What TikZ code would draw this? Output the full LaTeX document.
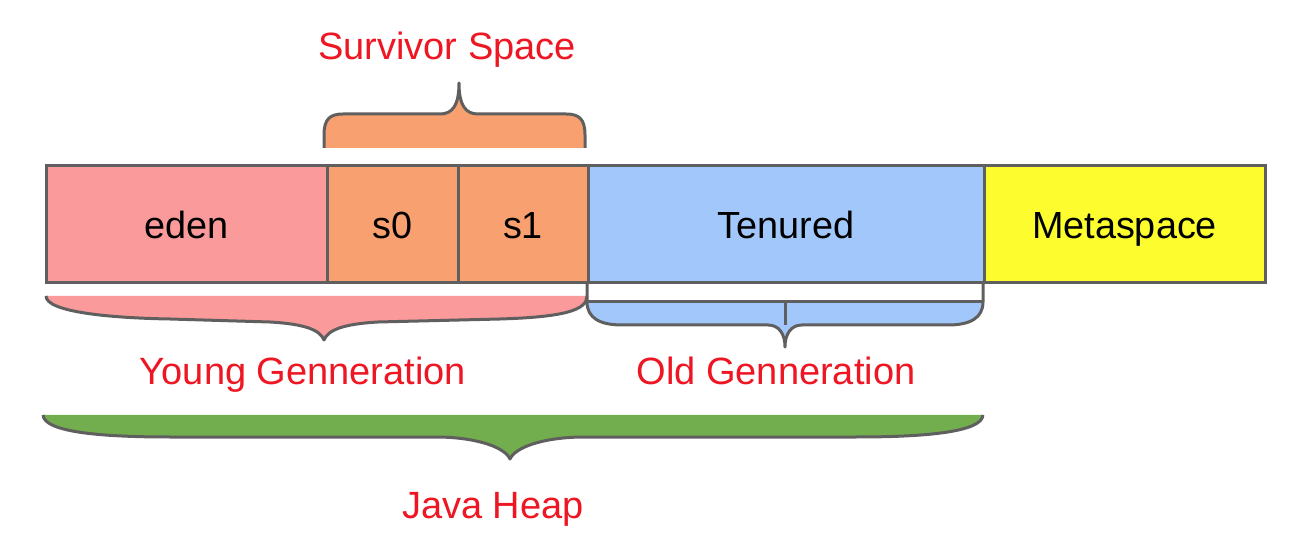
\documentclass[tikz,border=0pt]{standalone}
\usepackage{fontspec}
\setmainfont{Liberation Sans}
\definecolor{edenc}{RGB}{250,154,154}
\definecolor{survc}{RGB}{248,160,112}
\definecolor{tenc}{RGB}{162,199,250}
\definecolor{metac}{RGB}{252,252,46}
\definecolor{heapc}{RGB}{114,174,77}
\definecolor{linec}{RGB}{95,95,95}
\definecolor{redc}{RGB}{238,22,34}
\begin{document}
\begin{tikzpicture}[x=0.5pt,y=-0.5pt,
  cell/.style={draw=linec, line width=1.5pt, minimum height=58.5pt, inner sep=0pt,
    text height=14.5pt, text depth=0pt, font=\fontsize{18.9pt}{22pt}\selectfont},
  lbl/.style={text=redc, anchor=base, inner sep=0pt, font=\fontsize{19pt}{22pt}\selectfont},
  brace/.style={draw=linec, line width=1.5pt, line join=round}]
\useasboundingbox (0,0) rectangle (1304,544);

% heap compartments
\node[cell, fill=edenc, minimum width=140.5pt] (eden) at (186.5,224.5) {eden};
\node[cell, fill=survc, minimum width=65.5pt] (s0) at (392.5,224.5) {s0};
\node[cell, fill=survc, minimum width=65pt] (s1) at (523,224.5) {s1};
\node[cell, fill=tenc, minimum width=198pt] (ten) at (786,224.5) {Tenured};
\node[cell, fill=metac, minimum width=140.5pt] (meta) at (1124.5,224.5) {Metaspace};

% survivor brace (top)
\filldraw[brace, fill=survc] (324,148) -- (324,135) .. controls (324,119) and (330,114) .. (343,114)
  -- (440,114) .. controls (452,114) and (459,106) .. (459,83)
  .. controls (459,106) and (466,114) .. (478,114) -- (566,114)
  .. controls (579,114) and (585,119) .. (585,135) -- (585,148);

% young brace
\filldraw[brace, fill=edenc] (46,296) .. controls (46,312) and (110,318) .. (170,319)
  -- (270,322) .. controls (305,324) and (320,330) .. (324,340)
  .. controls (328,330) and (343,324) .. (378,322) -- (500,319)
  .. controls (565,317) and (587,310) .. (587,296);

% old brace
\fill[tenc] (587,302) .. controls (587,318) and (600,325) .. (622,325) -- (768,325)
  .. controls (779,325) and (785,334) .. (785,347)
  .. controls (785,334) and (791,325) .. (802,325) -- (948,325)
  .. controls (970,325) and (983,318) .. (983,302) -- cycle;
\draw[brace] (587,283) -- (587,302) .. controls (587,318) and (600,325) .. (622,325) -- (768,325)
  .. controls (779,325) and (785,334) .. (785,347)
  .. controls (785,334) and (791,325) .. (802,325) -- (948,325)
  .. controls (970,325) and (983,318) .. (983,302) -- (983,283);
\draw[brace] (587,302) -- (983,302) (785,302) -- (785,325);

% java heap brace
\filldraw[brace, fill=heapc] (43,415) .. controls (44,432) and (100,437) .. (170,437)
  -- (440,437) .. controls (480,438) and (505,448) .. (510,459)
  .. controls (515,448) and (540,438) .. (580,437) -- (856,437)
  .. controls (926,437) and (982,432) .. (983,415);

% labels
\node[lbl] (survL) at (447,60) {Survivor Space};
\node[lbl] (youngL) at (303,385) {Young Genneration};
\node[lbl] (oldL) at (776,385) {Old Genneration};
\node[lbl] (heapL) at (493,518) {Java Heap};
\end{tikzpicture}
\end{document}
